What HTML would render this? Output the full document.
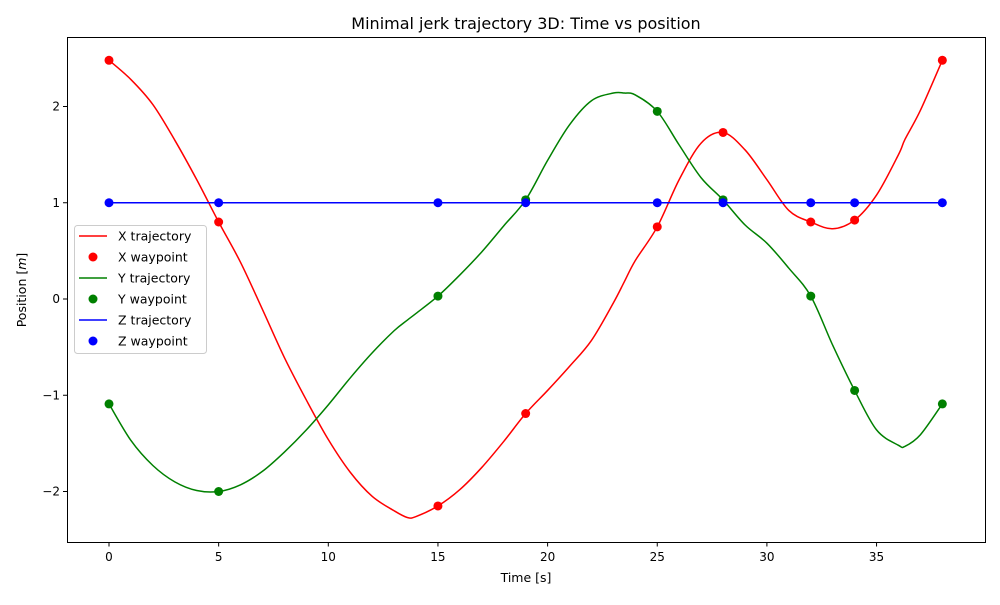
<!DOCTYPE html>
<html><head><meta charset="utf-8"><style>
body{margin:0;background:#fff}
svg text{font-family:"DejaVu Sans","Liberation Sans",sans-serif;fill:#000}
</style></head><body>
<svg id="chart" width="1000" height="600" xmlns="http://www.w3.org/2000/svg">
<rect width="1000" height="600" fill="#fff"/>
<text x="526" y="29" font-size="16" text-anchor="middle">Minimal jerk trajectory 3D: Time vs position</text>
<text x="526" y="582" font-size="12.5" text-anchor="middle">Time [s]</text>
<text x="26" y="290" font-size="12.5" text-anchor="middle" transform="rotate(-90 26 290)">Position [<tspan font-style="italic">m</tspan>]</text>
<g id="ticks"></g>
<g id="marks"></g>
<rect x="67.5" y="37.5" width="918" height="505" fill="none" stroke="#000" stroke-width="1"/>
<g id="legend"></g>
</svg>
<script>
const wpT=[0,5,15,19,25,28,32,34,38];
const wpX=[2.48,0.8,-2.15,-1.19,0.75,1.73,0.8,0.82,2.48];
const wpY=[-1.09,-2.0,0.03,1.03,1.95,1.03,0.03,-0.95,-1.09];
const wpZ=[1,1,1,1,1,1,1,1,1];
const trT=[0,1,2,3,4,5,6,7,8,9,10,11,12,13,13.6,14,15,16,17,18,19,20,21,22,23,23.5,24,25,26,27,28,29,30,31,32,33,34,35,36,36.3,37,38];
const trX=[2.48,2.28,2.02,1.65,1.24,0.8,0.38,-0.11,-0.61,-1.05,-1.46,-1.8,-2.05,-2.2,-2.27,-2.26,-2.15,-1.98,-1.75,-1.48,-1.19,-0.95,-0.7,-0.43,-0.04,0.18,0.4,0.75,1.24,1.62,1.73,1.55,1.24,0.92,0.8,0.73,0.82,1.08,1.5,1.66,1.96,2.48];
const trY=[-1.09,-1.47,-1.73,-1.9,-1.99,-2.0,-1.93,-1.79,-1.59,-1.36,-1.1,-0.82,-0.56,-0.33,-0.22,-0.15,0.03,0.25,0.49,0.76,1.03,1.44,1.81,2.06,2.14,2.14,2.12,1.95,1.6,1.26,1.03,0.77,0.58,0.32,0.03,-0.48,-0.95,-1.36,-1.52,-1.53,-1.41,-1.09];
const trZ=trT.map(()=>1);
const xTicks=[0,5,10,15,20,25,30,35];
const yTicks=[-2,-1,0,1,2];
const yTickLabels=["\u22122","\u22121","0","1","2"];
const NS="http://www.w3.org/2000/svg";
const sx=t=>109+21.93*t, sy=v=>299-96.25*v;
function mk(tag,at,parent){const e=document.createElementNS(NS,tag);for(const k in at)e.setAttribute(k,at[k]);parent.appendChild(e);return e;}
const tk=document.getElementById('ticks'), mg=document.getElementById('marks'), lg=document.getElementById('legend');
xTicks.forEach(t=>{const x=sx(t);
 const l=mk('line',{x1:x,x2:x,y1:542,y2:546.5,stroke:'#000'},tk);
 
 
 const s=mk('text',{x:x,y:561,'font-size':12,'text-anchor':'middle'},tk);s.textContent=t;
 
 });
yTicks.forEach((v,i)=>{const y=sy(v);
 const l=mk('line',{x1:63,x2:67,y1:y,y2:y,stroke:'#000'},tk);
 
 
 const s=mk('text',{x:60,y:y+4,'font-size':12,'text-anchor':'end'},tk);s.textContent=yTickLabels[i];
 
 });
function smoothPath(P){let d='M'+P[0][0]+','+P[0][1];
 for(let i=0;i<P.length-1;i++){const p0=P[Math.max(0,i-1)],p1=P[i],p2=P[i+1],p3=P[Math.min(P.length-1,i+2)];
  const c1=[p1[0]+(p2[0]-p0[0])/6,p1[1]+(p2[1]-p0[1])/6],c2=[p2[0]-(p3[0]-p1[0])/6,p2[1]-(p3[1]-p1[1])/6];
  d+=' C'+c1[0]+','+c1[1]+' '+c2[0]+','+c2[1]+' '+p2[0]+','+p2[1];}
 return d;}
function line(T,V,c,n){const p=mk('path',{d:smoothPath(T.map((t,i)=>[sx(t),sy(V[i])])),fill:'none',stroke:c,'stroke-width':1.5,'stroke-linejoin':'round'},mg);
 
 }
function pts(T,V,c,n){T.forEach((t,i)=>{const e=mk('circle',{cx:sx(t),cy:sy(V[i]),r:4.5,fill:c},mg);
 
 });}
line(trT,trX,'#ff0000','x-trajectory');pts(wpT,wpX,'#ff0000','x-waypoint');
line(trT,trY,'#008000','y-trajectory');pts(wpT,wpY,'#008000','y-waypoint');
line(trT,trZ,'#0000ff','z-trajectory');pts(wpT,wpZ,'#0000ff','z-waypoint');
mk('rect',{x:74.5,y:225.5,width:132,height:128,rx:3,fill:'#fff','fill-opacity':0.8,stroke:'#ccc'},lg);
const ents=[['X trajectory','#ff0000',0],['X waypoint','#ff0000',1],['Y trajectory','#008000',0],['Y waypoint','#008000',1],['Z trajectory','#0000ff',0],['Z waypoint','#0000ff',1]];
ents.forEach((e,i)=>{const y=236+i*21;
 if(e[2]){const c=mk('circle',{cx:93,cy:y,r:4.5,fill:e[1]},lg);}
 else{const l=mk('line',{x1:79,x2:107,y1:y,y2:y,stroke:e[1],'stroke-width':1.5},lg);}
 const t=mk('text',{x:118,y:y+4.5,'font-size':12.5},lg);t.textContent=e[0];
 
 });
</script>
</body></html>
